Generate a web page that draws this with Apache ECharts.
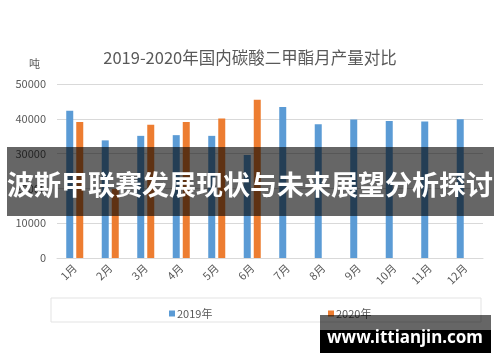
<!DOCTYPE html>
<html>
<head>
<meta charset="utf-8">
<script src="https://cdn.jsdelivr.net/npm/echarts@6/dist/echarts.min.js"></script>
<style>html,body{margin:0;padding:0;background:#fff;}#c{width:500px;height:362px;}</style>
</head>
<body>
<div id="c"></div>
<script>
var categories = ['1月','2月','3月','4月','5月','6月','7月','8月','9月','10月','11月','12月'];
var values2019 = [42300, 33800, 35100, 35300, 35100, 29600, 43400, 38400, 39800, 39400, 39200, 39900];
var values2020 = [39100, 19800, 38300, 39100, 40100, 45500, null, null, null, null, null, null];
var yTicks = [0, 10000, 20000, 30000, 40000, 50000];
var seriesNames = ['2019年', '2020年'];

var font = '"Microsoft YaHei","Noto Sans CJK SC","Noto Sans",sans-serif';
var chart = echarts.init(document.getElementById('c'), null, {renderer: 'canvas'});
chart.setOption({
  animation: false,
  backgroundColor: '#ffffff',
  title: {
    text: '2019-2020年国内碳酸二甲酯月产量对比',
    left: 'center', top: 44,
    textStyle: {fontFamily: font, fontSize: 16.5, fontWeight: 'normal', color: '#595959'}
  },
  legend: [
    {data: [seriesNames[0]], left: 164, top: 303, icon: 'rect', itemWidth: 6, itemHeight: 6, itemGap: 0,
     textStyle: {fontFamily: font, fontSize: 11, color: '#595959', padding: [0, 0, 0, -3]}},
    {data: [seriesNames[1]], left: 323, top: 303, icon: 'rect', itemWidth: 6, itemHeight: 6, itemGap: 0,
     textStyle: {fontFamily: font, fontSize: 11, color: '#595959', padding: [0, 0, 0, -3]}}
  ],
  grid: {left: 57, right: 17, top: 84, bottom: 104, containLabel: false},
  xAxis: {
    type: 'category',
    data: categories,
    axisLine: {show: true, lineStyle: {color: '#d9d9d9'}},
    axisTick: {show: false},
    axisLabel: {rotate: 45, margin: 8, fontFamily: font, fontSize: 11, color: '#595959'}
  },
  yAxis: {
    type: 'value',
    min: yTicks[0], max: yTicks[yTicks.length - 1], interval: 10000,
    axisLine: {show: false}, axisTick: {show: false},
    splitLine: {lineStyle: {color: '#d9d9d9'}},
    axisLabel: {margin: 11, fontFamily: font, fontSize: 11, color: '#595959', formatter: function (v) { return String(v); }}
  },
  series: [
    {name: seriesNames[0], type: 'bar', data: values2019, barWidth: 7, barGap: '43%', itemStyle: {color: '#5b9bd5'}},
    {name: seriesNames[1], type: 'bar', data: values2020, barWidth: 7, itemStyle: {color: '#ed7d31'}}
  ],
  graphic: [
    {type: 'text', left: 29, top: 58, style: {text: '吨', fontFamily: font, fontSize: 11, fill: '#595959'}},
    {type: 'rect', shape: {x: 51, y: 298, width: 430, height: 24}, style: {fill: 'none', stroke: '#e3e3e3', lineWidth: 1}, z: 1},
    {type: 'rect', shape: {x: 7, y: 147, width: 487, height: 69}, style: {fill: 'rgba(0,0,0,0.6)'}, z: 100},
    {type: 'text', x: 250, y: 185, z: 101,
     style: {text: '波斯甲联赛发展现状与未来展望分析探讨', fontFamily: '"Noto Sans CJK SC",sans-serif', fontWeight: 'bold', fontSize: 27, fill: '#ffffff', align: 'center', verticalAlign: 'middle'}},
    {type: 'rect', shape: {x: 320, y: 315, width: 171, height: 15}, style: {fill: 'rgba(0,0,0,0.6)'}, z: 100},
    {type: 'rect', shape: {x: 320, y: 330, width: 171, height: 23}, style: {fill: '#000000'}, z: 100},
    {type: 'text', x: 405, y: 338, z: 101,
     style: {text: 'www.ittianjin.com', fontFamily: '"Noto Sans","Open Sans",sans-serif', fontWeight: 'bold', fontSize: 17, fill: '#ffffff', align: 'center', verticalAlign: 'middle'}}
  ]
});
</script>
</body>
</html>
